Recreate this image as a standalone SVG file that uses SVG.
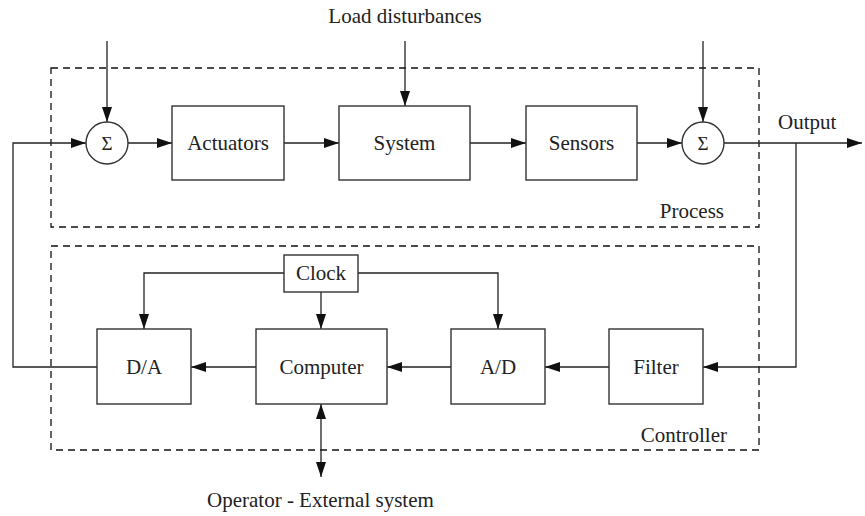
<svg xmlns="http://www.w3.org/2000/svg" width="865" height="516" viewBox="0 0 865 516">
<style>
text{font-family:"Liberation Serif",Tinos,"Nimbus Roman","Nimbus Roman No9 L","Times New Roman",Times,"DejaVu Serif","Noto Serif",serif;font-size:21px;fill:#222}
.c{text-anchor:middle}
.box{fill:#fff;stroke:#333;stroke-width:1.4}
.dash{fill:none;stroke:#111;stroke-width:1.3;stroke-dasharray:7,5}
.ln{fill:none;stroke:#222;stroke-width:1.3}
.sig{font-size:19px}
</style>
<defs>
<marker id="ah" markerUnits="userSpaceOnUse" markerWidth="16" markerHeight="12" refX="15" refY="5.5" orient="auto">
<path d="M0,0.5 L15,5.5 L0,10.5 Z" fill="#111"/>
</marker>
<marker id="as" markerUnits="userSpaceOnUse" markerWidth="16" markerHeight="12" refX="0" refY="5.5" orient="auto">
<path d="M15,0.5 L0,5.5 L15,10.5 Z" fill="#111"/>
</marker>
</defs>
<g id="process"><rect class="dash" x="51" y="68" width="708" height="159"/><text x="724" y="218" text-anchor="end">Process</text></g>
<g id="controller"><rect class="dash" x="51" y="246" width="708" height="204"/><text x="727" y="442" text-anchor="end">Controller</text></g>
<g id="connectors">
<path class="ln" d="M107,41 V122" marker-end="url(#ah)"/>
<path class="ln" d="M405,41 V106" marker-end="url(#ah)"/>
<path class="ln" d="M703,41 V122" marker-end="url(#ah)"/>
<path class="ln" d="M128,143 H172" marker-end="url(#ah)"/>
<path class="ln" d="M284,143 H339" marker-end="url(#ah)"/>
<path class="ln" d="M470,143 H526" marker-end="url(#ah)"/>
<path class="ln" d="M637,143 H682" marker-end="url(#ah)"/>
<path class="ln" d="M724,143 H862" marker-end="url(#ah)"/>
<path class="ln" d="M796,143 V367 H703" marker-end="url(#ah)"/>
<path class="ln" d="M609,367 H545" marker-end="url(#ah)"/>
<path class="ln" d="M451,367 H387" marker-end="url(#ah)"/>
<path class="ln" d="M256,367 H191" marker-end="url(#ah)"/>
<path class="ln" d="M97,367 H13 V143 H86" marker-end="url(#ah)"/>
<path class="ln" d="M284,273 H144 V329" marker-end="url(#ah)"/>
<path class="ln" d="M358,273 H498 V329" marker-end="url(#ah)"/>
<path class="ln" d="M321,292 V329" marker-end="url(#ah)"/>
<path class="ln" d="M321,404 V477" marker-start="url(#as)" marker-end="url(#ah)"/>
</g>
<g id="sum1"><circle class="box" cx="107" cy="143" r="21"/><text class="c sig" x="107" y="150">Σ</text></g>
<g id="sum2"><circle class="box" cx="703" cy="143" r="21"/><text class="c sig" x="703" y="150">Σ</text></g>
<g id="actuators"><rect class="box" x="172" y="106" width="112" height="74"/><text class="c" x="228" y="150">Actuators</text></g>
<g id="system"><rect class="box" x="339" y="106" width="131" height="74"/><text class="c" x="404.5" y="150">System</text></g>
<g id="sensors"><rect class="box" x="526" y="106" width="111" height="74"/><text class="c" x="581.5" y="150">Sensors</text></g>
<g id="clock"><rect class="box" x="284" y="255" width="74" height="37"/><text class="c" x="321" y="280">Clock</text></g>
<g id="da"><rect class="box" x="97" y="329" width="94" height="75"/><text class="c" x="144" y="374">D/A</text></g>
<g id="computer"><rect class="box" x="256" y="329" width="131" height="75"/><text class="c" x="321.5" y="374">Computer</text></g>
<g id="ad"><rect class="box" x="451" y="329" width="94" height="75"/><text class="c" x="498" y="374">A/D</text></g>
<g id="filter"><rect class="box" x="609" y="329" width="94" height="75"/><text class="c" x="656" y="374">Filter</text></g>
<g id="labels">
<text class="c" x="405" y="23">Load disturbances</text>
<text x="778" y="129">Output</text>
<text x="207" y="507">Operator - External system</text>
</g>
</svg>
